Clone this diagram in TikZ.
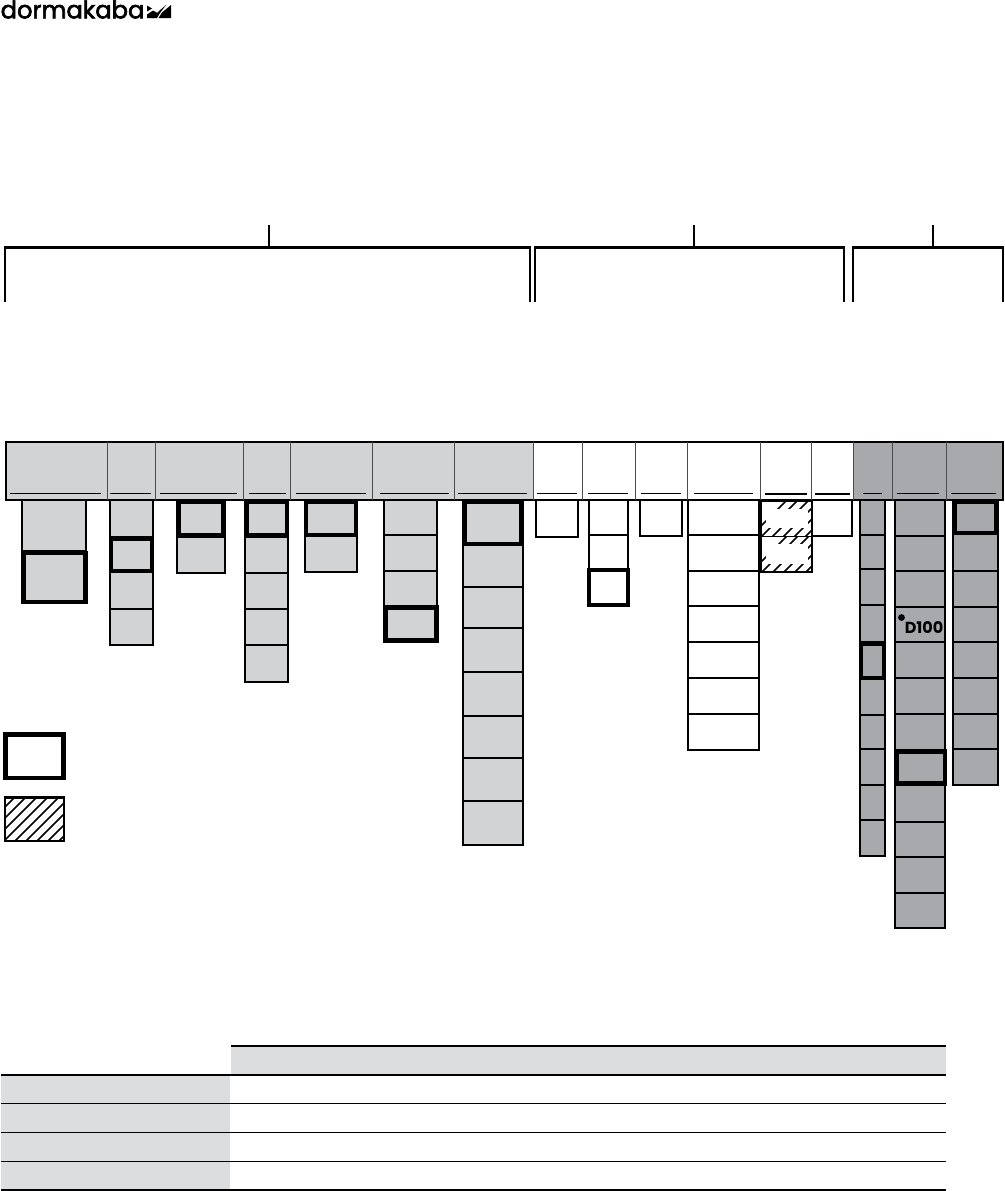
\documentclass[tikz,border=0pt]{standalone}
\usepackage{fontspec}
\setmainfont{Poppins}
\definecolor{lightgrey}{RGB}{209,211,212}
\definecolor{midgrey}{RGB}{167,169,172}
\definecolor{tablegrey}{RGB}{220,221,222}
\tikzset{
    cell/.style={draw=black, line width=1.9pt},
    heavycell/.style={draw=black, line width=4.2pt},
    bracket/.style={draw=black, line width=2.5pt},
    rule/.style={line width=1pt},
}
\begin{document}
\begin{tikzpicture}[x=1pt,y=-1pt]
    \useasboundingbox (0,0) rectangle (1004,1191);

    % logo
    \node[anchor=west, inner sep=0pt, font=\fontsize{24.2}{25}\selectfont\addfontfeature{FakeBold=2.5}] (logo) at (0.5,9.5) {dormakaba};
    \fill (147,18) -- (147,14.5) -- (153,10.5) -- (157.5,13) -- (154,18) -- cycle;
    \fill (147,11.5) -- (147,5.5) -- (152,8.5) -- cycle;
    \fill (152,18) -- (159,11) -- (166,5) -- (160,13) -- (157,18) -- cycle;
    \fill (158.5,18) -- (171,18) -- (171,5) -- (162,12.5) -- cycle;

    % brackets on top
    \draw[bracket] (5,302) -- (5,247.5) -- (530,247.5) -- (530,302);
    \draw[bracket] (535,302) -- (535,247.5) -- (844,247.5) -- (844,302);
    \draw[bracket] (853,302) -- (853,247.5) -- (1003,247.5) -- (1003,302);
    \foreach \x in {269,694,933} {\draw[line width=2pt] (\x,225) -- (\x,247);}

    % columns
    \foreach \xa/\xb/\ylist/\fillc in {
        22/86/{500,551}/lightgrey,
        110/153/{500,537,572,609,645}/lightgrey,
        177/225/{500,537,573}/lightgrey,
        245/288/{500,537,573,609,645,682}/lightgrey,
        305/357/{500,536,572}/lightgrey,
        384/437/{500,535,571,606,642}/lightgrey,
        463/523/{500,545,587,628,672,716,758,801,845}/lightgrey,
        536/578/{500,537}/white,
        589/628/{500,535,569}/white,
        640/682/{500,536}/white,
        688/759/{500,535,571,606,642,678,714,750}/white,
        812/852/{500,536}/white,
        860/885/{500,535,569,605,642,679,715,749,785,820,856}/midgrey,
        895/945/{500,536,571,607,642,678,714,750,785,822,857,893,928}/midgrey,
        953/998/{500,534,571,607,642,678,714,749,785}/midgrey} {
        \foreach \y [remember=\y as \yp (initially -1)] in \ylist {
            \ifnum\yp>0
                \filldraw[cell, fill=\fillc] (\xa,\yp) rectangle (\xb,\y);
            \fi
        }
    }

    % heavy cells
    \filldraw[heavycell, fill=lightgrey] (23.5,553) rectangle (85.5,602);
    \filldraw[heavycell, fill=lightgrey] (111,538.5) rectangle (152,571);
    \filldraw[heavycell, fill=lightgrey] (178.5,502) rectangle (223.5,535.5);
    \filldraw[heavycell, fill=lightgrey] (246.5,502) rectangle (287,535.5);
    \filldraw[heavycell, fill=lightgrey] (306,502) rectangle (356,535);
    \filldraw[heavycell, fill=lightgrey] (385.5,607.5) rectangle (436.5,640.5);
    \filldraw[heavycell, fill=lightgrey] (464.5,502) rectangle (521.5,544);
    \filldraw[heavycell, fill=white] (589,570) rectangle (628,605);
    \filldraw[heavycell, fill=midgrey] (861,643.5) rectangle (884,678);
    \filldraw[heavycell, fill=midgrey] (897,751.5) rectangle (945,783.5);
    \filldraw[heavycell, fill=midgrey] (954.5,502) rectangle (996.5,533);

    % header bar
    \fill[lightgrey] (6,442) rectangle (533,500);
    \fill[white] (533,442) rectangle (853,500);
    \fill[midgrey] (853,442) rectangle (1003,500);
    \draw[line width=1.7pt] (6,442) -- (1003,442) -- (1003,500) -- (6,500) -- cycle;
    \foreach \x in {107,155,243,290,372,454,533,582,635,687,760,811,853,892,946} {
        \draw[black!70, line width=1pt] (\x,442) -- (\x,500);
    }
    \foreach \xa/\xb/\w in {10/101/0.9,110/151/0.9,160/237/1.4,249/286/0.9,296/366/1.2,380/449/0.9,458/527/0.9,537/577/1.4,588/628/0.9,641/681/0.9,694/753/1,765/807/2,815/850/2,863/882/1,897/939/1,951/996/1} {
        \draw[line width=\w pt] (\xa,493.5) -- (\xb,493.5);
    }

    % hatched cells
    \foreach \ya/\yb in {501/536,536/572} {
        \begin{scope}
            \clip (761,\ya) rectangle (812,\yb);
            \foreach \k in {0,11,...,110} {
                \draw[line width=1.5pt] (750+\k,\yb+1) -- (750+\k+40,\yb-39);
            }
        \end{scope}
        \fill[white] (766,\ya+8) rectangle (808,\yb-8);
    }
    \draw[cell] (761,501) rectangle (812,572);
    \draw[line width=1pt] (761,536) -- (812,536);

    % D100
    \fill (901.5,617.5) circle (3.4pt);
    \node[inner sep=0pt, font=\fontsize{16}{16}\selectfont\bfseries] (dhundred) at (924,628) {D100};

    % legend
    \draw[line width=4.5pt] (5.5,734.5) rectangle (63.5,778);
    \begin{scope}
        \clip (5,797) rectangle (64,841);
        \foreach \k in {0,11,...,110} {
            \draw[line width=1.5pt] (-40+\k,841) -- (-40+\k+46,795);
        }
    \end{scope}
    \draw[line width=2.2pt] (5,797.5) rectangle (64,841);

    % table
    \fill[tablegrey] (231,1047) rectangle (946,1075);
    \fill[tablegrey] (1,1075) rectangle (230,1190);
    \draw[line width=2pt] (231,1046) -- (946,1046);
    \draw[line width=2pt] (1,1075) -- (946,1075);
    \foreach \y in {1103,1132,1161} {\draw[rule] (1,\y) -- (946,\y);}
    \draw[line width=2pt] (1,1190) -- (946,1190);
\end{tikzpicture}
\end{document}
